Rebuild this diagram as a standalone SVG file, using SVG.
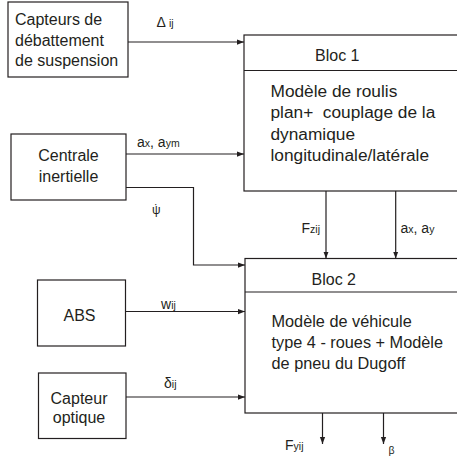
<svg xmlns="http://www.w3.org/2000/svg" width="457" height="468" viewBox="0 0 457 468">
<defs>
<marker id="ah" viewBox="0 0 8 8" refX="8" refY="4" markerWidth="7" markerHeight="7" markerUnits="userSpaceOnUse" orient="auto">
<path d="M0,1 L8,4 L0,7 Z" fill="#231f20"/>
</marker>
</defs>
<style>
rect{fill:#fff;stroke:#231f20;stroke-width:1.2}
line,path.c{fill:none;stroke:#231f20;stroke-width:1.2}
text{font-family:"Liberation Sans",Arial,sans-serif;font-size:16px;fill:#231f20}
.b1{font-size:17.3px}
.b2{font-size:16.3px}
.lb{font-size:14px}
.sb{font-size:10.5px}
.mid{text-anchor:middle}
</style>
<rect width="457" height="468" style="fill:#fff;stroke:none"/>
<g id="capteurs-debattement">
<rect x="8" y="2" width="120" height="75"/>
<text x="15" y="25">Capteurs de</text>
<text x="15" y="45.5">débattement</text>
<text x="15" y="66">de suspension</text>
</g>
<g id="centrale">
<rect x="11" y="134" width="115" height="66"/>
<text class="mid" x="68.5" y="161">Centrale</text>
<text class="mid" x="68.5" y="182">inertielle</text>
</g>
<g id="abs">
<rect x="37.5" y="280" width="88" height="66"/>
<text class="mid" x="79.5" y="320.5">ABS</text>
</g>
<g id="capteur-optique">
<rect x="38.5" y="373" width="87.5" height="65.5"/>
<text class="mid" x="79" y="403.5">Capteur</text>
<text class="mid" x="79" y="422.5">optique</text>
</g>
<g id="bloc1">
<rect x="244" y="35" width="230" height="156"/>
<line x1="244" y1="70.5" x2="474" y2="70.5"/>
<text x="315" y="61">Bloc 1</text>
<text class="b1" x="270.5" y="97">Modèle de roulis</text>
<text class="b1" x="270.5" y="118">plan+&#160; couplage de la</text>
<text class="b1" x="270.5" y="139.5">dynamique</text>
<text class="b1" x="270.5" y="161">longitudinale/latérale</text>
</g>
<g id="bloc2">
<rect x="245" y="258.5" width="230" height="154.5"/>
<line x1="245" y1="292" x2="475" y2="292"/>
<text x="311.5" y="285">Bloc 2</text>
<text class="b2" x="271.5" y="327">Modèle de véhicule</text>
<text class="b2" x="271.5" y="348">type 4 - roues + Modèle</text>
<text class="b2" x="271.5" y="368.5">de pneu du Dugoff</text>
</g>
<g id="connectors">
<line x1="128" y1="42" x2="244" y2="42" marker-end="url(#ah)"/>
<line x1="126" y1="154" x2="244" y2="154" marker-end="url(#ah)"/>
<path class="c" d="M126,187.5 H193.5 V265 H245" marker-end="url(#ah)"/>
<line x1="125.5" y1="311.5" x2="245" y2="311.5" marker-end="url(#ah)"/>
<line x1="126" y1="397" x2="245" y2="397" marker-end="url(#ah)"/>
<line x1="326" y1="191" x2="326" y2="258.5" marker-end="url(#ah)"/>
<line x1="395.7" y1="191" x2="395.7" y2="258.5" marker-end="url(#ah)"/>
<line x1="322.5" y1="413" x2="322.5" y2="444" marker-end="url(#ah)"/>
<line x1="383.5" y1="413" x2="383.5" y2="444" marker-end="url(#ah)"/>
<text class="lb" x="156.5" y="27">Δ <tspan class="sb">ij</tspan></text>
<text class="lb" x="137" y="147">a<tspan class="sb">x</tspan>, a<tspan class="sb">ym</tspan></text>
<text class="lb" x="152" y="214" style="font-size:12px">ψ<tspan x="154.3" y="212.5">˙</tspan></text>
<text class="lb" x="161" y="309">w<tspan class="sb">ij</tspan></text>
<text class="lb" x="164" y="388">δ<tspan class="sb">ij</tspan></text>
<text class="lb" x="301.5" y="233">F<tspan class="sb">zij</tspan></text>
<text class="lb" x="400.5" y="233">a<tspan class="sb">x</tspan>, a<tspan class="sb">y</tspan></text>
<text class="lb" x="285" y="450">F<tspan class="sb">yij</tspan></text>
<text class="sb" x="388.5" y="454">β</text>
</g>
</svg>
